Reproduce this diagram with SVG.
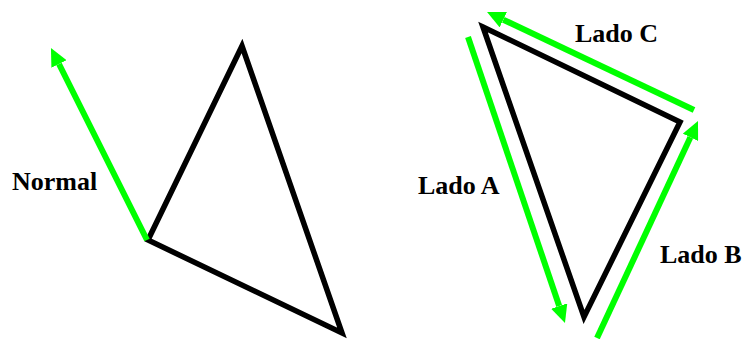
<svg xmlns="http://www.w3.org/2000/svg" width="745" height="339" viewBox="0 0 745 339">
<style>
.tri{fill:none;stroke:#000;stroke-width:5.5;stroke-linejoin:miter;stroke-miterlimit:20}
.vec{stroke:#00ff00;stroke-width:6;fill:none;marker-end:url(#ah)}
.lbl{font-family:"Liberation Serif","Times New Roman",serif;font-weight:bold;font-size:26px;fill:#000}
</style>
<defs>
<marker id="ah" markerUnits="userSpaceOnUse" viewBox="0 0 18 17" markerWidth="18" markerHeight="17" refX="0" refY="8.5" orient="auto">
<path d="M0,0 L18,8.5 L0,17 z" fill="#00ff00"/>
</marker>
</defs>
<g id="triangle-left"><polygon class="tri" points="242,46 148,240 342,333"/></g>
<g id="triangle-right"><polygon class="tri" points="483,27 680,122 584,317"/></g>
<g id="connectors">
<line class="vec" x1="147" y1="240" x2="59" y2="64"/>
<line class="vec" x1="468" y1="37" x2="559.2" y2="306"/>
<line class="vec" x1="597" y1="338" x2="690.4" y2="137.3"/>
<line class="vec" x1="694" y1="110" x2="503.3" y2="19.7"/>
</g>
<g id="labels">
<text class="lbl" x="12" y="190">Normal</text>
<text class="lbl" x="418" y="194">Lado A</text>
<text class="lbl" x="660" y="263">Lado B</text>
<text class="lbl" x="575" y="42">Lado C</text>
</g>
</svg>
